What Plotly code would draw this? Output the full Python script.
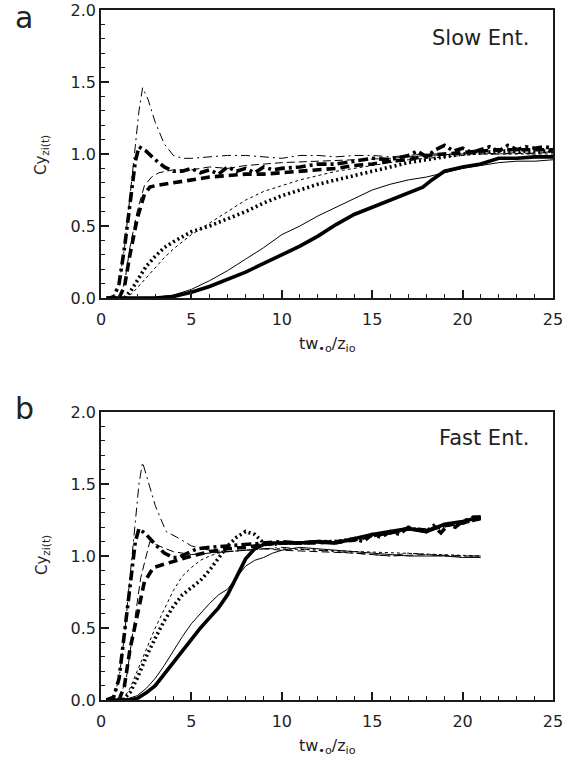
import plotly.graph_objects as go

# ---------------- Panel a (Slow Ent.) ----------------
a_tdd_x = [0.3,0.7,1.0,1.3,1.6,1.9,2.1,2.3,2.6,3.0,3.5,4.0,4.5,5,6,7,8,9,10,11,12,13,14,15,16,17,18,19,20,21,22,23,24,25]
a_tdd_y = [0,0.02,0.1,0.35,0.7,1.05,1.3,1.46,1.38,1.22,1.07,0.99,0.97,0.97,0.98,0.99,0.99,0.98,0.97,0.99,0.99,0.98,0.99,0.99,0.98,0.99,1.0,1.0,1.0,1.01,1.0,1.01,1.0,1.02]

a_Tdd_x = [0.3,0.7,1.0,1.3,1.6,1.9,2.1,2.5,3.0,3.5,4,4.5,5,5.5,6,6.5,7,7.5,8,8.5,9,9.5,10,11,12,13,14,15,16,17,17.5,18,18.5,19,19.5,20,20.5,21,21.5,22,22.5,23,23.5,24,24.5,25]
a_Tdd_y = [0,0.0,0.1,0.35,0.65,0.95,1.05,1.02,0.96,0.91,0.88,0.88,0.9,0.87,0.89,0.86,0.91,0.88,0.9,0.87,0.91,0.89,0.9,0.91,0.93,0.93,0.95,0.97,0.96,0.99,1.02,0.98,1.03,1.06,1.02,1.04,1.01,1.03,1.05,1.02,1.06,1.03,1.05,1.04,1.05,1.04]

a_Tda_x = [1.0,1.3,1.6,2.0,2.4,2.7,3.0,3.5,4,5,6,7,8,9,10,11,12,13,14,15,16,17,18,19,20,21,22,23,24,25]
a_Tda_y = [0,0.08,0.3,0.55,0.72,0.77,0.78,0.79,0.8,0.82,0.84,0.85,0.86,0.86,0.87,0.88,0.89,0.9,0.92,0.93,0.95,0.96,0.99,1.0,1.01,1.02,1.03,1.03,1.03,1.03]

a_tda_x = [1.0,1.3,1.6,2.0,2.4,2.8,3.2,3.6,4,5,6,7,8,9,10,12,14,16,18,20,22,25]
a_tda_y = [0,0.1,0.35,0.6,0.78,0.84,0.87,0.88,0.89,0.89,0.91,0.9,0.92,0.93,0.94,0.95,0.96,0.97,0.99,1.0,1.0,1.01]

a_dot_x = [1.3,1.7,2,2.5,3,3.5,4,5,6,7,8,9,10,11,12,13,14,15,16,17,18,19,20,21,22,23,24,25]
a_tdo_y = [0,0.03,0.07,0.14,0.21,0.28,0.34,0.44,0.52,0.6,0.68,0.74,0.78,0.82,0.85,0.88,0.9,0.92,0.94,0.96,0.97,0.98,0.99,1.0,1.0,1.0,1.0,1.0]
a_Tdo_y = [0,0.06,0.12,0.22,0.29,0.35,0.39,0.46,0.5,0.55,0.6,0.66,0.71,0.75,0.79,0.82,0.85,0.88,0.91,0.94,0.96,0.98,1.0,1.01,1.02,1.02,1.02,1.02]

a_tso_x = [0.3,1,2,3,4,5,6,7,8,9,10,11,12,13,14,15,16,17,18,19,20,21,22,23,24,25]
a_tso_y = [0,0,0,0.005,0.02,0.06,0.12,0.19,0.27,0.35,0.44,0.5,0.57,0.63,0.69,0.75,0.79,0.82,0.84,0.87,0.9,0.92,0.94,0.95,0.95,0.96]

a_Tso_x = [0.3,1,2,3,4,5,6,7,8,9,10,11,12,13,14,15,16,17,17.8,18.3,19,20,21,22,23,24,25]
a_Tso_y = [0,0,0,0,0.01,0.04,0.08,0.13,0.18,0.24,0.3,0.36,0.43,0.51,0.58,0.63,0.68,0.73,0.77,0.82,0.88,0.91,0.93,0.97,0.97,0.98,0.98]

# ---------------- Panel b (Fast Ent.) ----------------
b_tdd_x = [0.3,0.7,1.0,1.3,1.6,1.9,2.1,2.3,2.6,3.0,3.6,4.2,5,6,7,8,9,10,11,12,13,14,15,16,17,18,19,20,21]
b_tdd_y = [0,0.02,0.15,0.45,0.85,1.25,1.5,1.65,1.52,1.35,1.17,1.13,1.07,1.04,1.03,1.04,1.05,1.06,1.05,1.04,1.03,1.02,1.01,1.0,1.02,1.01,1.0,1.0,1.0]

b_Tdd_x = [0.3,0.7,1.0,1.3,1.6,1.9,2.1,2.5,3.0,3.5,4.0,4.3,4.8,5.3,6,7,8,9,10,11,12,13,14,14.5,15,15.5,16,16.5,17,17.5,18,18.4,18.8,19.2,19.6,20,20.6,21]
b_Tdd_y = [0,0.02,0.15,0.45,0.8,1.1,1.19,1.15,1.08,1.02,0.99,0.99,1.02,1.05,1.06,1.07,1.08,1.09,1.1,1.09,1.1,1.09,1.12,1.1,1.15,1.13,1.17,1.15,1.2,1.18,1.17,1.21,1.16,1.22,1.2,1.24,1.27,1.27]

b_Tda_x = [1.0,1.3,1.6,2.0,2.4,2.9,3.4,3.9,4.5,5,6,7,8,9,10,11,12,13,14,15,16,17,18,19,20,21]
b_Tda_y = [0,0.1,0.35,0.6,0.82,0.92,0.94,0.96,0.98,1.0,1.03,1.05,1.06,1.08,1.09,1.09,1.09,1.1,1.11,1.14,1.16,1.19,1.18,1.21,1.23,1.26]

b_tda_x = [1.0,1.4,1.8,2.2,2.7,3.2,4,5,6,7,8,9,10,12,14,16,18,20,21]
b_tda_y = [0,0.15,0.5,0.85,1.1,1.07,1.03,1.01,1.02,1.03,1.04,1.05,1.04,1.03,1.02,1.0,1.01,1.0,1.0]

b_tdo_x = [1.2,1.6,2,2.5,3,3.5,4,4.5,5,5.5,6,6.5,7,8,9,10,12,14,16,18,20,21]
b_tdo_y = [0,0.08,0.2,0.35,0.5,0.63,0.76,0.86,0.92,0.97,1.0,1.02,1.03,1.04,1.05,1.05,1.04,1.03,1.02,1.01,1.0,1.0]

b_Tdo_x = [1.2,1.6,2,2.5,3,3.5,4,4.5,5,5.5,6,6.5,7,7.5,8,8.5,9,9.5,10,11,12,13,14,15,16,17,18,19,20,21]
b_Tdo_y = [0,0.05,0.15,0.3,0.43,0.55,0.65,0.73,0.78,0.83,0.9,0.98,1.07,1.13,1.17,1.15,1.09,1.08,1.09,1.09,1.1,1.1,1.12,1.14,1.16,1.19,1.18,1.21,1.23,1.26]

b_so_x = [0.3,1,1.5,2,2.5,3,3.5,4,4.5,5,5.5,6,6.5,7,7.5,8,8.5,9,9.5,10,11,12,13,14,15,16,17,18,19,20,21]
b_tso_y = [0,0,0.01,0.03,0.08,0.15,0.24,0.34,0.44,0.53,0.6,0.67,0.73,0.77,0.85,0.93,0.97,0.99,1.02,1.04,1.06,1.05,1.04,1.03,1.02,1.01,1.0,1.0,1.0,0.99,0.99]
b_Tso_y = [0,0,0,0.01,0.05,0.1,0.18,0.26,0.35,0.43,0.5,0.57,0.64,0.73,0.85,0.98,1.05,1.08,1.09,1.09,1.09,1.1,1.09,1.12,1.15,1.17,1.19,1.17,1.22,1.24,1.27]

x_range = [0, 25]
y_range = [0, 2.0]
x_major, x_minor = 5, 1
y_major, y_minor = 0.5, 0.1

THIN = 1.0
THICK = 3.6
DASHDOT = "9px,4px,2px,4px"
DASHDOT_T = "10px,4px,3px,4px"
DASH_T = "9px,5px"
DASH = "8px,4px"
DOT_T = "2px,3px"

styles_a = [
    (a_tso_x, a_tso_y, THIN, "solid"),
    (a_Tso_x, a_Tso_y, THICK, "solid"),
    (a_dot_x, a_tdo_y, THIN, "dot"),
    (a_dot_x, a_Tdo_y, THICK, DOT_T),
    (a_tda_x, a_tda_y, THIN, DASH),
    (a_Tda_x, a_Tda_y, THICK, DASH_T),
    (a_tdd_x, a_tdd_y, THIN, DASHDOT),
    (a_Tdd_x, a_Tdd_y, THICK, DASHDOT_T),
]
styles_b = [
    (b_so_x, b_tso_y, THIN, "solid"),
    (b_so_x, b_Tso_y, THICK, "solid"),
    (b_tdo_x, b_tdo_y, THIN, "dot"),
    (b_Tdo_x, b_Tdo_y, THICK, DOT_T),
    (b_tda_x, b_tda_y, THIN, DASH),
    (b_Tda_x, b_Tda_y, THICK, DASH_T),
    (b_tdd_x, b_tdd_y, THIN, DASHDOT),
    (b_Tdd_x, b_Tdd_y, THICK, DASHDOT_T),
]

fig = go.Figure()
for xs, ys, w, d in styles_a:
    fig.add_trace(go.Scatter(x=xs, y=ys, mode="lines", xaxis="x", yaxis="y",
                             line=dict(color="black", width=w, dash=d), showlegend=False))
for xs, ys, w, d in styles_b:
    fig.add_trace(go.Scatter(x=xs, y=ys, mode="lines", xaxis="x2", yaxis="y2",
                             line=dict(color="black", width=w, dash=d), showlegend=False))

W, H = 572, 761
def px(x):
    return x / W
def py(y):
    return 1 - y / H

dom_x = [px(101), px(553)]
dom_ya = [py(298), py(10)]
dom_yb = [py(700), py(412)]

FONT = "DejaVu Sans, Arial, sans-serif"
tickfont = dict(family=FONT, size=16, color="#222")
LC = "#1a1a1a"
base = dict(showgrid=False, zeroline=False, tickfont=tickfont, automargin=False,
            ticks="inside", ticklen=8, tickwidth=1.6, tickcolor=LC)
xmin = dict(ticks="inside", ticklen=4, dtick=x_minor, tick0=0, tickcolor=LC, tickwidth=1.4)
ymin = dict(ticks="inside", ticklen=4, dtick=y_minor, tick0=0, tickcolor=LC, tickwidth=1.4)

xax = dict(base, range=x_range, dtick=x_major, tick0=0, minor=xmin, ticklabelstandoff=6,
           showline=True, linecolor=LC, linewidth=1.6, mirror=True)
yax = dict(base, range=y_range, dtick=y_major, tick0=0, tickformat=".1f", minor=ymin,
           showline=True, linecolor=LC, linewidth=1.6, mirror=True)
# tick-only twins on the top and right edges
xtw = dict(base, range=x_range, dtick=x_major, tick0=0, minor=xmin, showline=False,
           showticklabels=False, side="top")
ytw = dict(base, range=y_range, dtick=y_major, tick0=0, minor=ymin, showline=False,
           showticklabels=False, side="right")

fig.update_layout(
    width=W, height=H, template="none", showlegend=False,
    margin=dict(l=0, r=0, t=0, b=0),
    paper_bgcolor="white", plot_bgcolor="white",
    xaxis=dict(xax, domain=dom_x, anchor="y"),
    yaxis=dict(yax, domain=dom_ya, anchor="x"),
    xaxis2=dict(xax, domain=dom_x, anchor="y2"),
    yaxis2=dict(yax, domain=dom_yb, anchor="x2"),
    xaxis3=dict(xtw, overlaying="x", anchor="y"),
    yaxis3=dict(ytw, overlaying="y", anchor="x"),
    xaxis4=dict(xtw, overlaying="x2", anchor="y2"),
    yaxis4=dict(ytw, overlaying="y2", anchor="x2"),
)

def ann(text, x, y, size=17, angle=0, xanchor="center"):
    fig.add_annotation(text=text, x=px(x), y=py(y), xref="paper", yref="paper",
                       showarrow=False, textangle=angle, xanchor=xanchor, yanchor="middle",
                       font=dict(family=FONT, size=size, color="#222"))

xtitle = "tw<sub>\u2022o</sub>/z<sub>io</sub>"
ytitle = "Cy<sub>zi(t)</sub>"
ann(xtitle, 327, 345, size=16)
ann(xtitle, 327, 746, size=16)
ann(ytitle, 42, 155, size=15, angle=-90)
ann(ytitle, 42, 555, size=15, angle=-90)
ann("Slow Ent.", 531, 38, size=21, xanchor="right")
ann("Fast Ent.", 531, 438, size=21, xanchor="right")
ann("a", 24, 17, size=30)
ann("b", 24, 409, size=30)

# remove the browser's default 8px page margin so the figure fills the window exactly
fig.write_html("out.html", config={"displayModeBar": False},
               post_script="document.body.style.margin='0px';document.body.style.overflow='hidden';")
